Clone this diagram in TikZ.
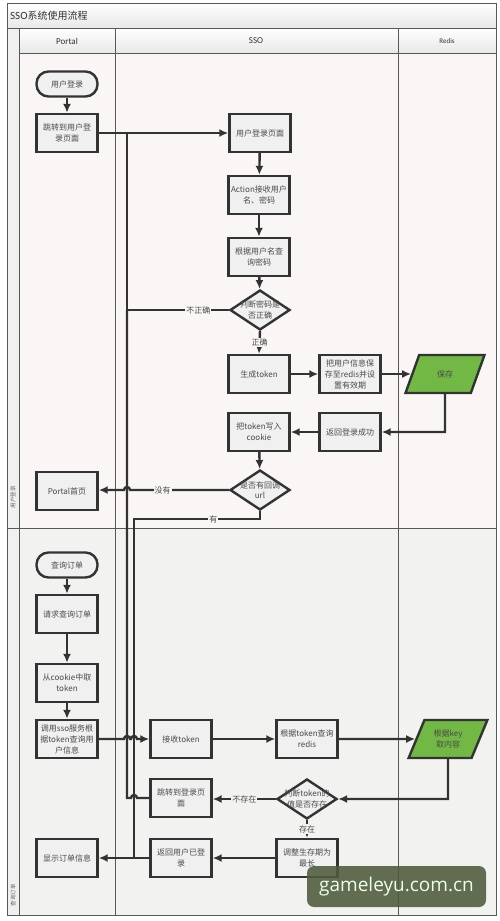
\documentclass[tikz,border=0pt]{standalone}
\usepackage{fontspec}
\setmainfont{Noto Sans CJK SC}
\newfontfamily\latinfont{Carlito}
\newfontfamily\wmfont{Open Sans}
\usetikzlibrary{shapes.geometric,arrows.meta}
\definecolor{lineC}{HTML}{333333}
\definecolor{boxF}{HTML}{F0F0F0}
\definecolor{greenF}{HTML}{72B844}
\definecolor{txt}{HTML}{4A4A4A}
\definecolor{laneL}{HTML}{585858}
\definecolor{upBG}{HTML}{FAF6F6}
\definecolor{loBG}{HTML}{F2F2F0}
\definecolor{wmC}{HTML}{4E5A3A}
\begin{document}
\begin{tikzpicture}[x=1pt,y=-1pt,
  box/.style={draw=lineC, line width=2.4pt, fill=boxF, minimum width=61pt, minimum height=38pt, align=center, inner sep=1pt, font=\fontsize{8}{11}\selectfont, text=txt},
  term/.style={box, rounded corners=12pt, minimum height=25pt},
  dec/.style={diamond, draw=lineC, line width=2.4pt, fill=boxF, minimum width=60pt, minimum height=40pt, inner sep=0pt},
  dtext/.style={font=\fontsize{8}{10.5}\selectfont, text=txt, align=center, inner sep=0pt},
  io/.style={trapezium, trapezium left angle=63, trapezium right angle=117, trapezium stretches=true, draw=lineC, line width=2.4pt, fill=greenF, minimum width=79pt, minimum height=38pt, align=center, inner sep=1pt, font=\fontsize{8}{11}\selectfont, text=txt},
  flow/.style={draw=lineC, line width=2.4pt, -{Latex[length=9pt,width=8pt]}},
  link/.style={draw=lineC, line width=2.4pt},
  lblU/.style={fill=upBG, inner sep=1pt, font=\fontsize{8}{9}\selectfont, text=txt},
  lblL/.style={fill=loBG, inner sep=1pt, font=\fontsize{8}{9}\selectfont, text=txt},
  lane/.style={draw=laneL, line width=0.9pt},
  hdr/.style={top color=white, bottom color=gray!18, draw=laneL, line width=0.9pt}
]
\useasboundingbox (0,0) rectangle (500,921);
\fill[white] (0,0) rectangle (500,921);
% lanes background
\fill[upBG] (7,28) rectangle (496,528);
\fill[loBG] (7,528) rectangle (496,915);
\fill[gray!12] (7,28) rectangle (19,915);
% title and headers
\path[hdr] (7,3) rectangle (496,28);
\node[anchor=west, inner sep=0pt, font=\latinfont\fontsize{11}{12}\selectfont, text=black!80] (title) at (10,16) {SSO\normalfont\fontsize{10}{12}\selectfont 系统使用流程};
\path[hdr] (19,28) rectangle (115,53);
\path[hdr] (115,28) rectangle (398,53);
\path[hdr] (398,28) rectangle (496,53);
\node[font=\latinfont\fontsize{9}{10}\selectfont, text=black!80] (hP) at (67,41) {Portal};
\node[font=\latinfont\fontsize{9}{10}\selectfont, text=black!80] (hS) at (256,41) {SSO};
\node[font=\latinfont\fontsize{7}{8}\selectfont, text=black!80] (hR) at (447,41) {Redis};
% lane lines
\draw[lane] (7,3) rectangle (496,915);
\draw[lane] (19,28) -- (19,915);
\draw[lane] (115,53) -- (115,915);
\draw[lane] (398,53) -- (398,915);
\draw[lane] (7,528) -- (496,528);
\node[rotate=90, font=\fontsize{5.5}{6}\selectfont, text=black!60] (lu) at (13,497) {用户登录};
\node[rotate=90, font=\fontsize{5.5}{6}\selectfont, text=black!60] (lq) at (13,895) {查询订单};

% ---------- upper lane nodes
\node[term] (s1) at (67,84) {用户登录};
\node[box] (b1) at (67,133) {跳转到用户登\\录页面};
\node[box] (b2) at (260,133) {用户登录页面};
\node[box] (b3) at (259,195) {Action接收用户\\名、密码};
\node[box] (b4) at (259,257) {根据用户名查\\询密码};
\node[dec] (d1) at (260,310) {};
\node[dtext] (t1) at (d1) {判断密码是\\否正确};
\node[box] (b5) at (259,374) {生成token};
\node[box] (b6) at (350,374) {把用户信息保\\存至redis并设\\置有效期};
\node[io] (io1) at (445,374) {保存};
\node[box] (b7) at (350,432) {返回登录成功};
\node[box] (b8) at (259,432) {把token写入\\cookie};
\node[dec] (d2) at (260,490) {};
\node[dtext] (t2) at (d2) {是否有回调\\url};
\node[box] (b9) at (67,491) {Portal首页};

% ---------- lower lane nodes
\node[term] (s2) at (67,565) {查询订单};
\node[box] (b10) at (67,614) {请求查询订单};
\node[box] (b11) at (67,683) {从cookie中取\\token};
\node[box] (b12) at (67,739) {调用sso服务根\\据token查询用\\户信息};
\node[box] (b13) at (181,739) {接收token};
\node[box] (b14) at (307,739) {根据token查询\\redis};
\node[io] (io2) at (448,739) {根据key\\取内容};
\node[dec] (d3) at (307,799) {};
\node[dtext] (t3) at (d3) {判断token的\\值是否存在};
\node[box] (b15) at (181,798) {跳转到登录页\\面};
\node[box] (b16) at (307,858) {调整生存期为\\最长};
\node[box] (b17) at (181,858) {返回用户已登\\录};
\node[box] (b18) at (67,858) {显示订单信息};

% junction coordinates
\coordinate (j1) at (127,133);
\coordinate (j2) at (127,310);
\coordinate (j3) at (127,798);
\coordinate (k1) at (260,519);
\coordinate (k2) at (134,519);
\coordinate (k3) at (134,858);
\coordinate (r1) at (445,432);
\coordinate (r2) at (448,799);

% ---------- upper connectors
\draw[flow] (s1) -- (b1);
\draw[flow] (b1.east) -- (b2.west);
\draw[flow] (b2) -- (b3);
\draw[flow] (b3) -- (b4);
\draw[flow] (b4) -- (d1);
\draw[link] (d1.west) -- node[lblU, pos=0.3] (l1) {不正确} (j2) -- (j1);
\draw[flow] (d1.south) -- node[lblU] (l2) {正确} (b5.north);
\draw[flow] (b5) -- (b6);
\draw[flow] (b6) -- (io1);
\draw[flow] (io1.south) -- (r1) -- (b7.east);
\draw[flow] (b7) -- (b8);
\draw[flow] (b8) -- (d2);
\draw[flow] (d2.west) -- node[lblU, pos=0.67] (l3) {没有} (130,490) arc (0:-180:3) -- (b9.east |- 0,490);
\draw[link] (d2.south) -- (k1) -- node[lblU, pos=0.37] (l4) {有} (k2) -- (k3);

% ---------- lower connectors
\draw[flow] (s2) -- (b10);
\draw[flow] (b10) -- (b11);
\draw[flow] (b11) -- (b12);
\draw[flow] (b12.east) -- (124,739) arc (180:360:3) -- (131,739) arc (180:360:3) -- (b13.west);
\draw[flow] (b13) -- (b14);
\draw[flow] (b14) -- (io2);
\draw[flow] (io2.south) -- (r2) -- (d3.east);
\draw[flow] (d3.west) -- node[lblL] (l5) {不存在} (b15.east |- d3.west);
\draw[link] (b15.west |- j3) -- (137,798) arc (0:-180:3) -- (j3) -- (j2);
\draw[flow] (d3.south) -- node[lblL] (l6) {存在} (b16.north);
\draw[flow] (b16) -- (b17);
\draw[flow] (b17.west) -- (b18.east);

% watermark
\node[fill=wmC, fill opacity=0.88, text opacity=1, rounded corners=7pt, minimum width=179pt, minimum height=41pt, inner sep=0pt, font=\wmfont\fontsize{19}{20}\selectfont, text=white!92!green] (wm) at (396.5,886.5) {gameleyu.com.cn};
\end{tikzpicture}
\end{document}
